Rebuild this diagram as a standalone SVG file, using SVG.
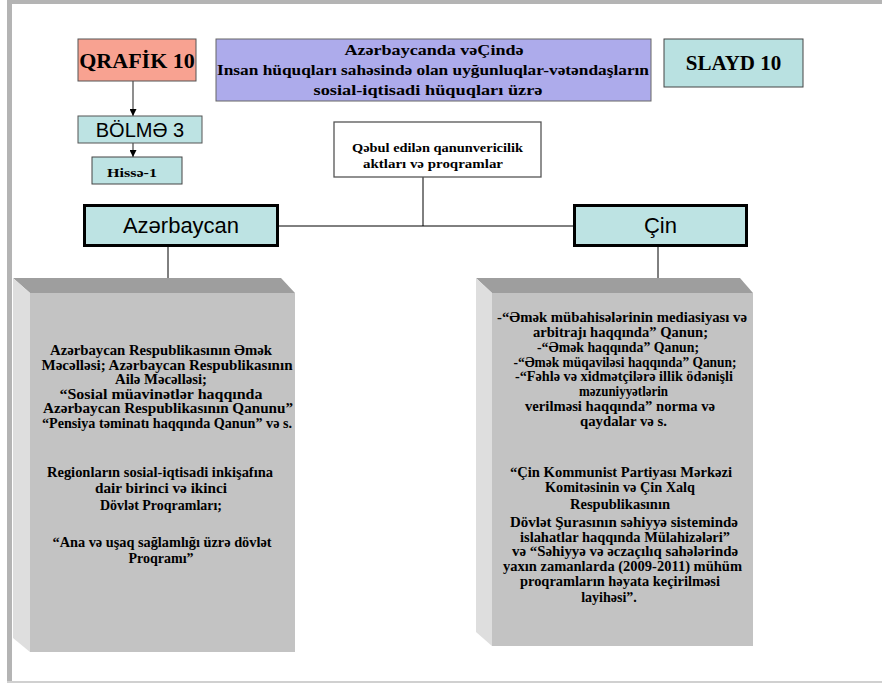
<svg xmlns="http://www.w3.org/2000/svg" width="882" height="683" viewBox="0 0 882 683">
<defs>
<style>
.serif{font-family:"Liberation Serif","DejaVu Serif","Times New Roman",serif;font-weight:bold;fill:#000}
.sans{font-family:"Liberation Sans",Arial,sans-serif;fill:#000}
.body{font-size:14px;text-anchor:middle}
.cyan{fill:#BDE3E3}
.conn{stroke:#000;stroke-width:1;fill:none}
.conn2{stroke:#444;stroke-width:1.2;fill:none}
.face{fill:#C3C3C3}
.top{fill:#9E9E9E}
.side{fill:#DEDEDE}
</style>
<marker id="arr" viewBox="0 0 10 10" refX="10" refY="5" markerWidth="7" markerHeight="7" markerUnits="userSpaceOnUse" orient="auto">
<path d="M0,0 L10,5 L0,10 z" fill="#000"/>
</marker>
</defs>
<rect x="0" y="0" width="882" height="683" fill="#fff"/>
<rect x="7" y="0" width="875" height="4" fill="#B4B4B4"/>
<rect x="7" y="0" width="5" height="681" fill="#B4B4B4"/>
<rect x="7" y="681" width="875" height="2" fill="#D0D0D0"/>

<g id="connectors">
<line class="conn2" x1="133" y1="81" x2="133" y2="116" marker-end="url(#arr)"/>
<line class="conn2" x1="133" y1="143" x2="133" y2="157" marker-end="url(#arr)"/>
<line class="conn" x1="423" y1="177" x2="423" y2="226"/>
<line class="conn" x1="279" y1="226" x2="573" y2="226"/>
<line class="conn" x1="168" y1="247" x2="168" y2="293" marker-end="url(#arr)"/>
<line class="conn" x1="658" y1="247" x2="658" y2="293" marker-end="url(#arr)"/>
</g>

<g id="qrafik">
<rect x="78" y="39" width="118" height="42" fill="#F8A291" stroke="#555" stroke-width="1"/>
<text class="serif" x="137" y="68" font-size="22" text-anchor="middle">QRAFİK 10</text>
</g>

<g id="title">
<rect x="216" y="39" width="435" height="62" fill="#ADABEB" stroke="#666" stroke-width="1"/>
<text class="serif" x="434" y="55" font-size="14" text-anchor="middle" textLength="179" lengthAdjust="spacingAndGlyphs">Azərbaycanda  vəÇində</text>
<text class="serif" x="433" y="75" font-size="14" text-anchor="middle" textLength="432" lengthAdjust="spacingAndGlyphs">Insan hüquqları sahəsində olan uyğunluqlar-vətəndaşların</text>
<text class="serif" x="428" y="95" font-size="14" text-anchor="middle" textLength="229" lengthAdjust="spacingAndGlyphs">sosial-iqtisadi   hüquqları  üzrə</text>
</g>

<g id="slayd">
<rect x="664" y="39" width="139" height="48" fill="#B9E1E1" stroke="#444" stroke-width="1"/>
<text class="serif" x="733.5" y="70" font-size="21" text-anchor="middle">SLAYD 10</text>
</g>

<g id="bolme">
<rect x="78" y="116" width="124" height="27" class="cyan" stroke="#555" stroke-width="1"/>
<text class="sans" x="140" y="137" font-size="20" text-anchor="middle">BÖLMƏ 3</text>
</g>

<g id="hisse">
<rect x="92" y="157" width="90" height="27" class="cyan" stroke="#444" stroke-width="1"/>
<text class="serif" x="132" y="177" font-size="13" text-anchor="middle" textLength="50" lengthAdjust="spacingAndGlyphs">Hissə-1</text>
</g>

<g id="qebul">
<rect x="334" y="122" width="207" height="55" fill="#fff" stroke="#555" stroke-width="1.3"/>
<text class="serif" x="437.5" y="152" font-size="13" text-anchor="middle" textLength="171" lengthAdjust="spacingAndGlyphs">Qəbul edilən qanunvericilik</text>
<text class="serif" x="433" y="168" font-size="13" text-anchor="middle" textLength="140" lengthAdjust="spacingAndGlyphs">aktları  və proqramlar</text>
</g>

<g id="azerbaycan">
<rect x="84.5" y="205.5" width="193" height="40" class="cyan" stroke="#000" stroke-width="3"/>
<text class="sans" x="181" y="233" font-size="22" text-anchor="middle">Azərbaycan</text>
</g>

<g id="cin">
<rect x="574.5" y="205.5" width="172" height="40" class="cyan" stroke="#000" stroke-width="3"/>
<text class="sans" x="660.5" y="233" font-size="22" text-anchor="middle">Çin</text>
</g>

<g id="box-az">
<polygon class="top" points="13,278 281,278 295,293 30,293"/>
<polygon class="side" points="13,278 30,293 30,652 13,638"/>
<rect class="face" x="30" y="293" width="265" height="359"/>
<g class="serif body">
<text x="161" y="355" textLength="222" lengthAdjust="spacingAndGlyphs">Azərbaycan Respublikasının Əmək</text>
<text x="167" y="369.5" textLength="251" lengthAdjust="spacingAndGlyphs">Məcəlləsi; Azərbaycan Respublikasının</text>
<text x="161" y="384" textLength="92" lengthAdjust="spacingAndGlyphs">Ailə Məcəlləsi;</text>
<text x="161" y="398.5" textLength="203" lengthAdjust="spacingAndGlyphs">“Sosial müavinətlər haqqında</text>
<text x="168" y="413" textLength="250" lengthAdjust="spacingAndGlyphs">Azərbaycan Respublikasının Qanunu”</text>
<text x="167" y="427.5" textLength="250" lengthAdjust="spacingAndGlyphs">“Pensiya təminatı haqqında Qanun” və s.</text>
<text x="160" y="477" textLength="226" lengthAdjust="spacingAndGlyphs">Regionların sosial-iqtisadi  inkişafına</text>
<text x="161" y="493" textLength="132" lengthAdjust="spacingAndGlyphs">dair birinci  və  ikinci</text>
<text x="161" y="510" textLength="122" lengthAdjust="spacingAndGlyphs">Dövlət Proqramları;</text>
<text x="162" y="547" textLength="219" lengthAdjust="spacingAndGlyphs">“Ana və uşaq sağlamlığı  üzrə dövlət</text>
<text x="161" y="563">Proqramı”</text>
</g>
</g>

<g id="box-cin">
<polygon class="top" points="476,278 740,278 753,293 492,293"/>
<polygon class="side" points="476,278 492,293 492,646 476,632"/>
<rect class="face" x="492" y="293" width="261" height="353"/>
<g class="serif body">
<text x="622" y="322" textLength="250" lengthAdjust="spacingAndGlyphs">-“Əmək mübahisələrinin  mediasiyası və</text>
<text x="620.5" y="337" textLength="175" lengthAdjust="spacingAndGlyphs">arbitrajı haqqında”  Qanun;</text>
<text x="618" y="352" textLength="162" lengthAdjust="spacingAndGlyphs">-“Əmək haqqında” Qanun;</text>
<text x="625" y="366.5" textLength="223" lengthAdjust="spacingAndGlyphs">-“Əmək müqaviləsi  haqqında” Qanun;</text>
<text x="624" y="381" textLength="218" lengthAdjust="spacingAndGlyphs">-“Fəhlə və xidmətçilərə  illik  ödənişli</text>
<text x="623.5" y="395.5" textLength="89" lengthAdjust="spacingAndGlyphs">məzuniyyətlərin</text>
<text x="620" y="411" textLength="190" lengthAdjust="spacingAndGlyphs">verilməsi haqqında” norma və</text>
<text x="623.5" y="425.5" textLength="87" lengthAdjust="spacingAndGlyphs">qaydalar və s.</text>
<text x="621" y="477" textLength="222" lengthAdjust="spacingAndGlyphs">“Çin Kommunist Partiyası Mərkəzi</text>
<text x="620" y="492" textLength="150" lengthAdjust="spacingAndGlyphs">Komitəsinin və Çin Xalq</text>
<text x="620" y="509" textLength="100" lengthAdjust="spacingAndGlyphs">Respublikasının</text>
<text x="624" y="527" textLength="228" lengthAdjust="spacingAndGlyphs">Dövlət Şurasının   səhiyyə sistemində</text>
<text x="625" y="541.5" textLength="210" lengthAdjust="spacingAndGlyphs">islahatlar haqqında Mülahizələri”</text>
<text x="625" y="556" textLength="226" lengthAdjust="spacingAndGlyphs">və “Səhiyyə və əczaçılıq sahələrində</text>
<text x="622.5" y="571" textLength="239" lengthAdjust="spacingAndGlyphs">yaxın zamanlarda (2009-2011) mühüm</text>
<text x="620" y="586" textLength="200" lengthAdjust="spacingAndGlyphs">proqramların həyata keçirilməsi</text>
<text x="609" y="602">layihəsi”.</text>
</g>
</g>
</svg>
